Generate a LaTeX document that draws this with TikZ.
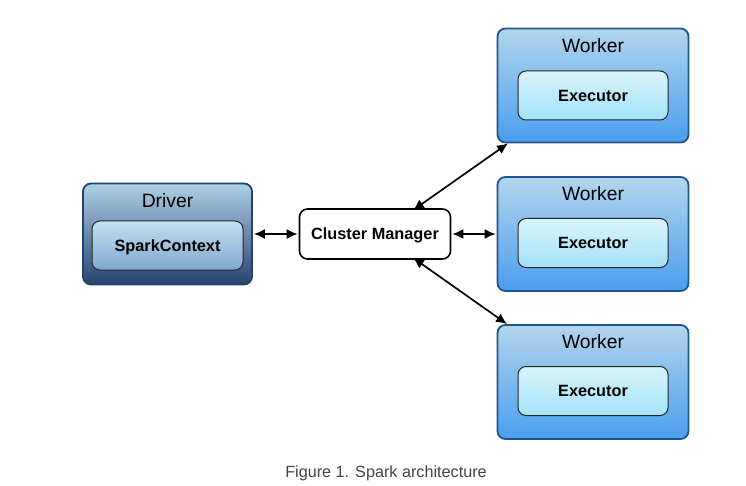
\documentclass[tikz,border=0pt]{standalone}
\usepackage{fontspec}
\setmainfont{Liberation Sans}
\usetikzlibrary{arrows.meta}
\definecolor{drvborder}{HTML}{23426F}
\definecolor{drvtop}{HTML}{AFD0E6}
\definecolor{drvbot}{HTML}{26436F}
\definecolor{sctop}{HTML}{C3E0F2}
\definecolor{scbot}{HTML}{7FA7CE}
\definecolor{wkborder}{HTML}{22548C}
\definecolor{wktop}{HTML}{B3D6EC}
\definecolor{wkbot}{HTML}{4A9DEF}
\definecolor{extop}{HTML}{D8F4FC}
\definecolor{exbot}{HTML}{A3E2F8}
\definecolor{captiongray}{HTML}{444444}
\tikzset{
  outerbox/.style={draw, line width=1.8pt, rounded corners=8pt, inner sep=0pt},
  drvbox/.style={outerbox, draw=drvborder, top color=drvtop, bottom color=drvbot,
    minimum width=169pt, minimum height=101pt},
  wkbox/.style={outerbox, draw=wkborder, top color=wktop, bottom color=wkbot,
    minimum width=191pt, minimum height=114pt},
  innerbox/.style={draw=black!85, line width=1pt, rounded corners=8pt, inner sep=0pt,
    text depth=0pt, font=\fontsize{16.3}{19}\selectfont\bfseries},
  scbox/.style={innerbox, top color=sctop, bottom color=scbot,
    minimum width=151pt, minimum height=49pt},
  exbox/.style={innerbox, top color=extop, bottom color=exbot,
    minimum width=150pt, minimum height=49pt},
  cmbox/.style={draw=black, fill=white, line width=1.6pt, rounded corners=8pt,
    minimum width=151pt, minimum height=50pt, inner sep=0pt, text depth=0pt,
    font=\fontsize{16.3}{19}\selectfont\bfseries},
  title/.style={font=\fontsize{19.3}{23}\selectfont, inner sep=0pt, text depth=0pt},
  conn/.style={line width=1.7pt, {Latex[length=11pt,width=10pt]}-{Latex[length=11pt,width=10pt]}}
}
\begin{document}
\begin{tikzpicture}[x=1pt,y=-1pt]
\useasboundingbox (0,0) rectangle (746,486);
% Driver
\node[drvbox] (driver) at (167.5,234) {};
\node[title] (driverlbl) at (167.5,201) {Driver};
\node[scbox] (sc) at (167.5,245.5) {SparkContext};
% Cluster manager
\node[cmbox] (cm) at (375,234) {Cluster Manager};
% Workers
\node[wkbox] (w1) at (593,85.5) {};
\node[title] (w1lbl) at (593,46) {Worker};
\node[exbox] (e1) at (593,95.5) {Executor};
\node[wkbox] (w2) at (593,234) {};
\node[title] (w2lbl) at (593,194) {Worker};
\node[exbox] (e2) at (593,243) {Executor};
\node[wkbox] (w3) at (593,382) {};
\node[title] (w3lbl) at (593,342) {Worker};
\node[exbox] (e3) at (593,391) {Executor};
% Connectors
\draw[conn] ([xshift=1pt]driver.east) -- ([xshift=-1pt]cm.west);
\draw[conn] ([xshift=1pt]cm.east) -- ([xshift=-1pt]w2.west);
\draw[conn] ([xshift=38pt,yshift=-2pt]cm.north) -- ([xshift=-85pt]w1.south);
\draw[conn] ([xshift=38pt,yshift=2pt]cm.south) -- ([xshift=-86pt]w3.north);
% Caption
\node[font=\fontsize{16.2}{19}\selectfont, text=captiongray, inner sep=0pt, text depth=0pt] (caption) at (386,472) {Figure 1. Spark architecture};
\end{tikzpicture}
\end{document}
